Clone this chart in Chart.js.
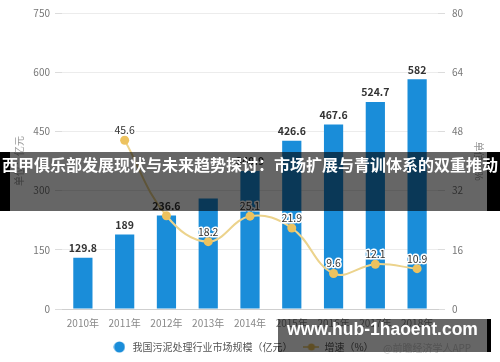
<!DOCTYPE html>
<html>
<head>
<meta charset="utf-8">
<script src="https://cdn.jsdelivr.net/npm/chart.js@4.4.1/dist/chart.umd.min.js"></script>
<style>
  html, body { margin: 0; padding: 0; background: #fff; }
  #wrap { position: relative; width: 500px; height: 362px; overflow: hidden; }
  #c { position: absolute; left: 0; top: 0; }
  .banner { position: absolute; left: 0; top: 152px; width: 500px; height: 59px; background: rgba(0,0,0,0.6); }
  .bL { position: absolute; left: 0; top: 152px; width: 10px; height: 59px; background: #000; }
  .bR { position: absolute; left: 487px; top: 152px; width: 13px; height: 59px; background: #000; }
  .btxt { position: absolute; left: 0; top: 152px; width: 500px; height: 59px; line-height: 59px; text-align: center;
          color: #fff; font: bold 16px "Noto Sans CJK SC", sans-serif; white-space: nowrap; }
  .wm { position: absolute; left: 278px; top: 319px; width: 209px; height: 33px; background: rgba(0,0,0,0.6); }
  .wmR { position: absolute; left: 487px; top: 319px; width: 4px; height: 33px; background: #000; }
  .wmtxt { position: absolute; left: 278px; top: 319px; width: 209px; height: 33px; line-height: 33px; text-align: center;
           color: #fff; font: bold 17.5px "Liberation Sans", Arial, sans-serif; white-space: nowrap; }
  .src { position: absolute; left: 383px; top: 340px; color: #d0d0d0; font: 10px "Noto Sans CJK SC", sans-serif; white-space: nowrap; }
</style>
</head>
<body>
<div id="wrap">
  <canvas id="c" width="500" height="362"></canvas>
  <div class="src">@前瞻经济学人APP</div>
  <div class="banner"></div>
  <div class="bL"></div>
  <div class="bR"></div>
  <div class="btxt">西甲俱乐部发展现状与未来趋势探讨：市场扩展与青训体系的双重推动</div>
  <div class="wm"></div>
  <div class="wmR"></div>
  <div class="wmtxt">www.hub-1haoent.com</div>
</div>
<script>
// ---- data ----
const years = ['2010年','2011年','2012年','2013年','2014年','2015年','2016年','2017年','2018年'];
const marketSize = [129.8, 189, 236.6, 279.7, 349.9, 426.6, 467.6, 524.7, 582];
const growthRate = [null, 45.6, 25.2, 18.2, 25.1, 21.9, 9.6, 12.1, 10.9];
const leftTicks = [0, 150, 300, 450, 600, 750];
const rightTicks = [0, 16, 32, 48, 64, 80];
const seriesNames = ['我国污泥处理行业市场规模（亿元）', '增速（%）'];
const axisTitles = ['单位：亿元', '单位：%'];
// value labels that the reference does not show
const unlabeledBarYears = ['2013年'];
const unlabeledLineYears = ['2012年'];

const BLUE = '#1a8dd9';
const GOLD_LINE = '#ecd38c';
const GOLD_PT = '#edc25e';
const FONT = '"Noto Sans CJK SC", "Noto Sans", sans-serif';

function makeCircleIcon() {
  const c = document.createElement('canvas');
  c.width = 12; c.height = 12;
  const g = c.getContext('2d');
  g.fillStyle = BLUE;
  g.beginPath(); g.arc(6, 6, 5.5, 0, Math.PI * 2); g.fill();
  return c;
}
function makeLineIcon() {
  const c = document.createElement('canvas');
  c.width = 16; c.height = 10;
  const g = c.getContext('2d');
  g.strokeStyle = GOLD_LINE; g.lineWidth = 2;
  g.beginPath(); g.moveTo(0, 5); g.lineTo(16, 5); g.stroke();
  g.fillStyle = GOLD_PT;
  g.beginPath(); g.arc(8, 5, 3.5, 0, Math.PI * 2); g.fill();
  return c;
}

const valueLabels = {
  id: 'valueLabels',
  afterDatasetsDraw(chart) {
    const ctx = chart.ctx;
    ctx.save();
    ctx.textAlign = 'center';
    ctx.textBaseline = 'middle';
    const bm = chart.getDatasetMeta(0);
    ctx.font = 'bold 10.5px ' + FONT;
    ctx.fillStyle = '#333';
    bm.data.forEach((el, i) => {
      if (unlabeledBarYears.includes(years[i])) return;
      ctx.fillText(String(marketSize[i]), el.x, el.y - 9.5);
    });
    const lm = chart.getDatasetMeta(1);
    ctx.font = '10.5px ' + FONT;
    ctx.lineWidth = 3;
    ctx.strokeStyle = '#fff';
    ctx.lineJoin = 'round';
    lm.data.forEach((el, i) => {
      const v = growthRate[i];
      if (v === null || el.skip || unlabeledLineYears.includes(years[i])) return;
      ctx.strokeText(String(v), el.x, el.y - 10);
      ctx.fillText(String(v), el.x, el.y - 10);
    });
    ctx.restore();
  }
};

new Chart(document.getElementById('c'), {
  data: {
    labels: years,
    datasets: [
      {
        type: 'bar',
        label: seriesNames[0],
        data: marketSize,
        backgroundColor: BLUE,
        yAxisID: 'y',
        order: 1,
        categoryPercentage: 1,
        barPercentage: 0.46
      },
      {
        type: 'line',
        label: seriesNames[1],
        data: growthRate,
        borderColor: GOLD_LINE,
        borderWidth: 2,
        pointBackgroundColor: GOLD_PT,
        pointBorderWidth: 0,
        pointRadius: 4.5,
        tension: 0.4,
        yAxisID: 'y1',
        order: 0
      }
    ]
  },
  options: {
    responsive: false,
    animation: false,
    devicePixelRatio: 1,
    layout: { padding: { top: 11, right: 15, bottom: 0, left: 0 } },
    plugins: {
      tooltip: { enabled: false },
      legend: {
        position: 'bottom',
        labels: {
          usePointStyle: true,
          pointStyleWidth: 16,
          padding: 11,
          color: '#555',
          font: { size: 10, family: FONT },
          generateLabels() {
            return [
              { text: seriesNames[0], pointStyle: makeCircleIcon(), fillStyle: BLUE, strokeStyle: BLUE, lineWidth: 0, datasetIndex: 0, fontColor: '#555' },
              { text: seriesNames[1], pointStyle: makeLineIcon(), fillStyle: GOLD_PT, strokeStyle: GOLD_PT, lineWidth: 0, datasetIndex: 1, fontColor: '#555' }
            ];
          }
        }
      }
    },
    scales: {
      x: {
        offset: true,
        grid: { display: false, drawTicks: false },
        border: { display: true, color: '#cfcfcf' },
        ticks: { color: '#888', font: { size: 10, family: FONT }, padding: 8, maxRotation: 0, autoSkip: false },
        afterFit(s) { s.height = 22; }
      },
      y: {
        position: 'left',
        min: 0, max: 750,
        afterBuildTicks(s) { s.ticks = leftTicks.map(v => ({ value: v })); },
        grid: { color: '#ececec', tickColor: '#dcdcdc', tickLength: 7 },
        border: { display: false },
        ticks: { color: '#777', font: { size: 10, family: FONT }, padding: 5 },
        title: { display: true, text: axisTitles[0], color: '#999', font: { size: 10, family: FONT }, padding: { top: 13, bottom: 0 } },
        afterFit(s) { s.width = 62; }
      },
      y1: {
        position: 'right',
        min: 0, max: 80,
        afterBuildTicks(s) { s.ticks = rightTicks.map(v => ({ value: v })); },
        grid: { drawOnChartArea: false, tickColor: '#dcdcdc', tickLength: 7 },
        border: { display: false },
        ticks: { color: '#777', font: { size: 10, family: FONT }, padding: 7 },
        title: { display: true, text: axisTitles[1], color: '#999', font: { size: 10, family: FONT }, padding: { top: 0, bottom: 0 } },
        afterFit(s) { s.width = 47; }
      }
    }
  },
  plugins: [valueLabels]
});
</script>
</body>
</html>
